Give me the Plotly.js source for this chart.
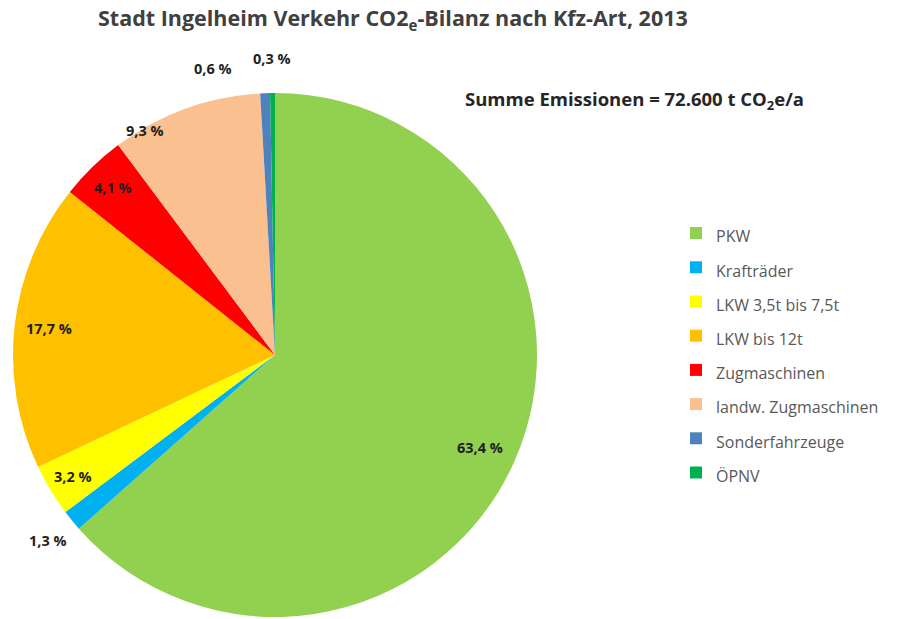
<!DOCTYPE html>
<html><head><meta charset="utf-8">
<script src="https://cdn.plot.ly/plotly-3.0.1.min.js"></script>
<style>html,body{margin:0;padding:0;background:#fff}</style>
</head><body>
<div id="chart" style="width:907px;height:619px"></div>
<script>
// ---- data ----
const categories = ["PKW","Krafträder","LKW 3,5t bis 7,5t","LKW bis 12t","Zugmaschinen","landw. Zugmaschinen","Sonderfahrzeuge","ÖPNV"];
const shares = [63.4, 1.3, 3.2, 17.7, 4.1, 9.3, 0.6, 0.3];
const colors = ["#92D050","#00B0F0","#FFFF00","#FFC000","#FF0000","#FAC090","#4F81BD","#00B050"];
const titleText = "Stadt Ingelheim Verkehr CO2<sub>e</sub>-Bilanz nach Kfz-Art, 2013";
const totalText = "Summe Emissionen = 72.600 t CO<sub>2</sub>e/a";

// ---- label style (radius factor, angle nudge in degrees) ----
const labelR = [0.86, 1.12, 0.90, 0.87, 0.89, 0.99, 1.12, 1.13];
const labelDA = [0, 0, 0, 0, 0, -10, -10, 0];

const W = 907, H = 619;
const cx = 275, cy = 355, R = 262;
const dom = {x: [(cx - R) / W, (cx + R) / W], y: [1 - (cy + R) / H, 1 - (cy - R) / H]};
const FONT = "'Open Sans', Lato, sans-serif";

const total = shares.reduce((a, b) => a + b, 0);
let cum = 0;
const annotations = [];
shares.forEach((v, i) => {
  const mid = (cum + v / 2) / total * 360 + labelDA[i];
  cum += v;
  const a = mid * Math.PI / 180;
  const r = R * labelR[i];
  const px = cx + r * Math.sin(a), py = cy - r * Math.cos(a);
  annotations.push({
    x: px / W, y: 1 - py / H, xref: "paper", yref: "paper",
    text: "<b>" + v.toFixed(1).replace(".", ",") + " %</b>", showarrow: false,
    font: {family: FONT, size: 14.5, color: "#1f1f1f"},
    xanchor: "center", yanchor: "middle"
  });
});
annotations.push({
  x: 393 / W, y: 1 - 19 / H, xref: "paper", yref: "paper", showarrow: false,
  text: "<b>" + titleText + "</b>", xanchor: "center", yanchor: "middle",
  font: {family: FONT, size: 21.5, color: "#404040"}
});
annotations.push({
  x: 634 / W, y: 1 - 100 / H, xref: "paper", yref: "paper", showarrow: false,
  text: "<b>" + totalText + "</b>", xanchor: "center", yanchor: "middle",
  font: {family: FONT, size: 18.5, color: "#262626"}
});

const trace = {
  type: "pie",
  labels: categories.map(c => '<span style="font-size:16px">' + c + '</span>'),
  values: shares,
  sort: false,
  direction: "clockwise",
  rotation: 0,
  marker: {colors: colors, line: {width: 0}},
  textinfo: "none",
  hoverinfo: "label+percent",
  domain: dom
};

const layout = {
  width: W, height: H,
  margin: {l: 0, r: 0, t: 0, b: 0},
  paper_bgcolor: "#ffffff",
  showlegend: true,
  legend: {
    x: 676 / W, y: 1 - 211 / H, xanchor: "left", yanchor: "top",
    font: {family: FONT, size: 24, color: "#595959"},
    bgcolor: "rgba(0,0,0,0)"
  },
  annotations: annotations
};

Plotly.newPlot("chart", [trace], layout, {displayModeBar: false, staticPlot: true});
</script>
</body></html>
